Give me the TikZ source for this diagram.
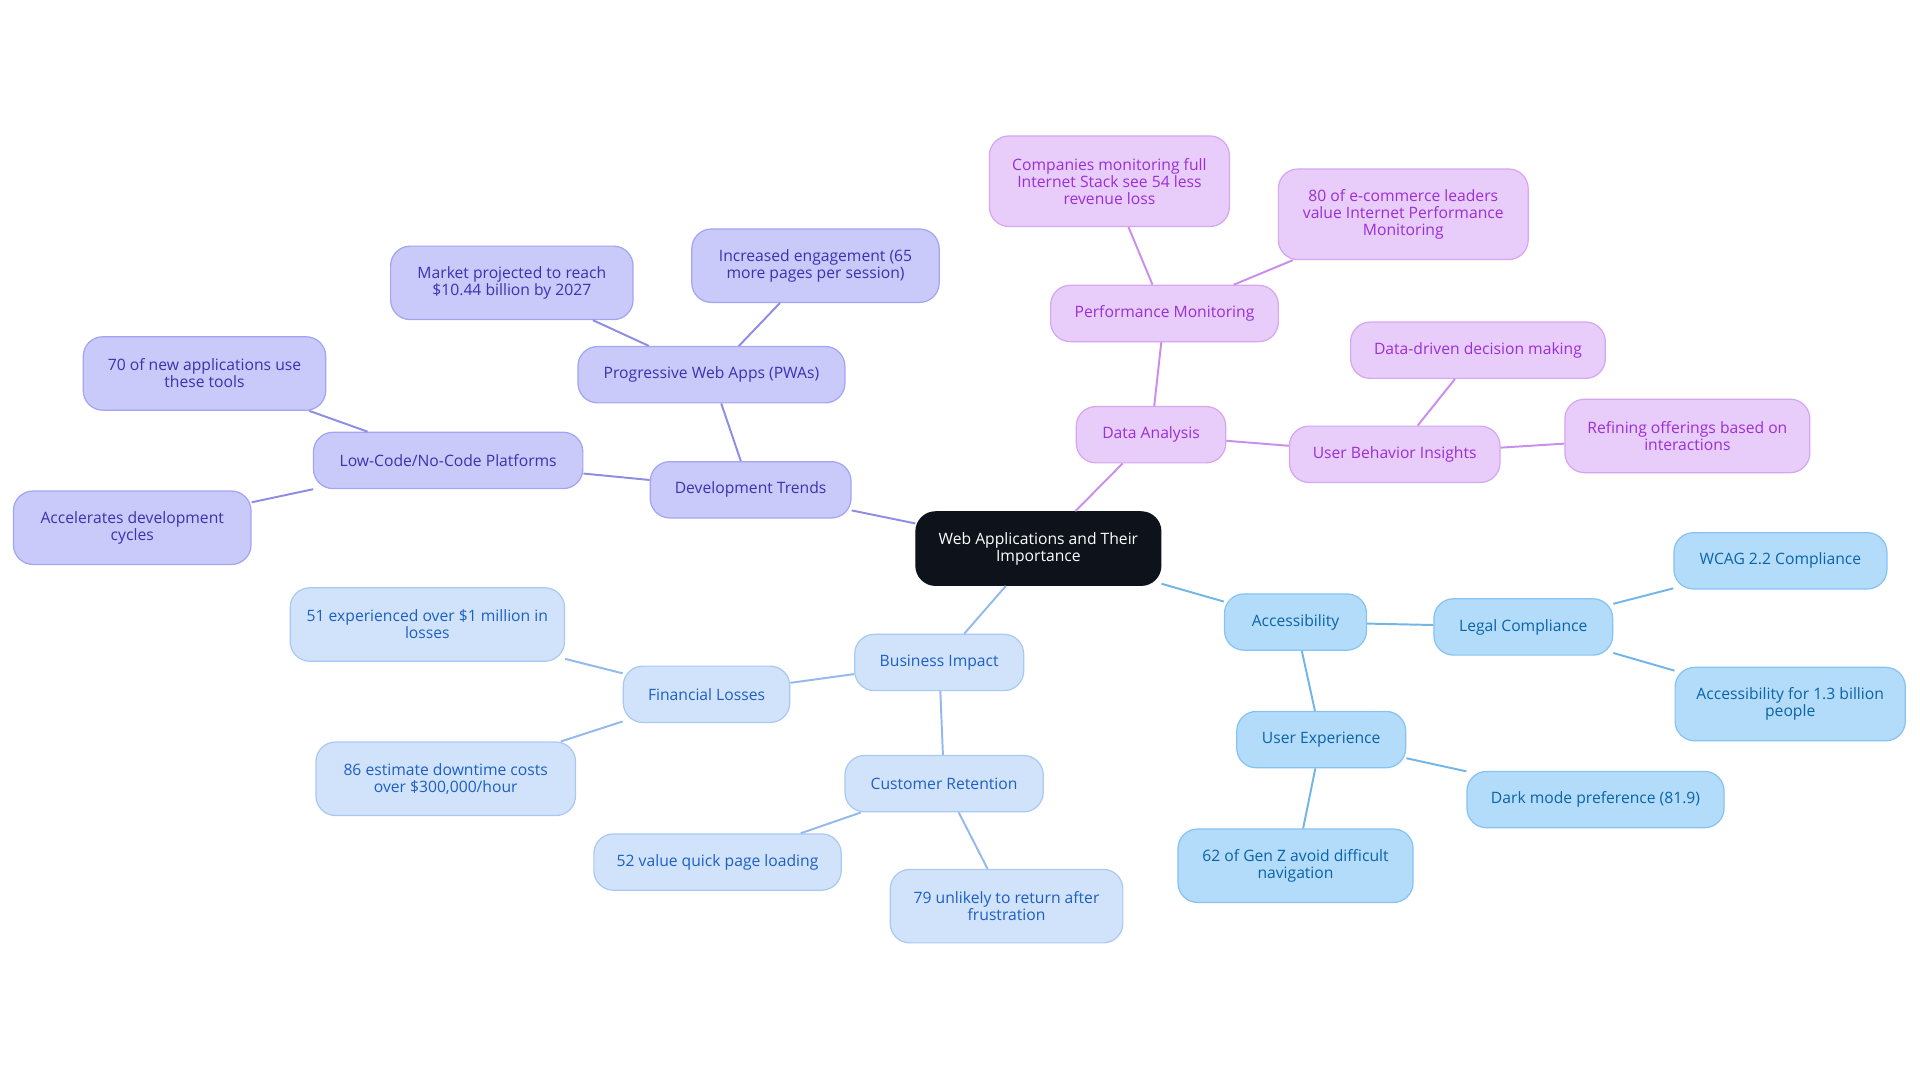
\documentclass[tikz,border=0pt]{standalone}
\usepackage{fontspec}
\setmainfont{Open Sans}
\definecolor{pf}{HTML}{E8CCFA}\definecolor{pt}{HTML}{9B2FD6}\definecolor{pd}{HTML}{D6A6F2}
\definecolor{vf}{HTML}{C9CAFA}\definecolor{vt}{HTML}{3A32B0}\definecolor{vd}{HTML}{A3A4F2}
\definecolor{bf}{HTML}{D0E3FA}\definecolor{bt}{HTML}{1E5FC4}\definecolor{bd}{HTML}{A9C9F2}
\definecolor{sf}{HTML}{B3DCFB}\definecolor{st}{HTML}{0B63A8}\definecolor{sd}{HTML}{86C3F2}
\definecolor{rootc}{HTML}{0D121B}
\tikzset{
 box/.style={rounded corners=8pt,align=center,inner sep=2pt,font=\fontsize{6.4}{7}\selectfont,line width=0.5pt},
 pbox/.style={box,fill=pf,draw=pd,text=pt},
 vbox/.style={box,fill=vf,draw=vd,text=vt},
 bbox/.style={box,fill=bf,draw=bd,text=bt},
 sbox/.style={box,fill=sf,draw=sd,text=st},
 pl/.style={draw=pd!80!pt,line width=0.8pt},
 vl/.style={draw=vd!80!vt,line width=0.8pt},
 bl/.style={draw=bd!85!bt,line width=0.8pt},
 sl/.style={draw=sd!85!st,line width=0.8pt},
}
\newcommand{\nd}[6]{\node[#1,minimum width=#4*0.5pt,minimum height=#5*0.5pt] (#6) at (#2*0.5pt,-#3*0.5pt) {#6text};}
\begin{document}
\begin{tikzpicture}
\useasboundingbox (0,0) rectangle (784pt,-442pt);
\def\N#1#2#3#4#5#6#7{\node[#1,minimum width=#4*0.5pt,minimum height=#5*0.5pt] (#6) at (#2*0.5pt,-#3*0.5pt) {#7};}
\node[box,fill=rootc,draw=rootc,text=white,minimum width=100pt,minimum height=30pt] (root) at (424pt,-224pt) {Web Applications and Their\\Importance};
\N{vbox}{613}{400}{164}{46}{dev}{Development Trends}
\N{vbox}{581}{306}{218}{46}{pwa}{Progressive Web Apps (PWAs)}
\N{vbox}{418}{231}{198}{60}{mkt}{Market projected to reach\\\$10.44 billion by 2027}
\N{vbox}{666}{217}{202}{60}{eng}{Increased engagement (65\\more pages per session)}
\N{vbox}{366}{376}{220}{46}{low}{Low-Code/No-Code Platforms}
\N{vbox}{167}{305}{198}{60}{sev}{70 of new applications use\\these tools}
\N{vbox}{108}{431}{194}{60}{acc}{Accelerates development\\cycles}
\N{pbox}{940}{355}{122}{46}{da}{Data Analysis}
\N{pbox}{951}{256}{186}{46}{pm}{Performance Monitoring}
\N{pbox}{906}{148}{196}{74}{comp}{Companies monitoring full\\Internet Stack see 54 less\\revenue loss}
\N{pbox}{1146}{175}{204}{74}{eig}{80 of e-commerce leaders\\value Internet Performance\\Monitoring}
\N{pbox}{1139}{371}{172}{46}{ubi}{User Behavior Insights}
\N{pbox}{1207}{286}{208}{46}{ddd}{Data-driven decision making}
\N{pbox}{1378}{356}{200}{60}{ref}{Refining offerings based on\\interactions}
\N{sbox}{1058}{508}{116}{46}{axs}{Accessibility}
\N{sbox}{1244}{512}{146}{46}{leg}{Legal Compliance}
\N{sbox}{1454}{458}{174}{46}{wcag}{WCAG 2.2 Compliance}
\N{sbox}{1462}{575}{188}{60}{bil}{Accessibility for 1.3 billion\\people}
\N{sbox}{1079}{604}{138}{46}{ux}{User Experience}
\N{sbox}{1303}{653}{210}{46}{dark}{Dark mode preference (81.9)}
\N{sbox}{1058}{707}{192}{60}{genz}{62 of Gen Z avoid difficult\\navigation}
\N{bbox}{767}{541}{138}{46}{bi}{Business Impact}
\N{bbox}{577}{567}{136}{46}{fin}{Financial Losses}
\N{bbox}{349}{510}{224}{60}{ffo}{51 experienced over \$1 million in\\losses}
\N{bbox}{364}{636}{212}{60}{eso}{86 estimate downtime costs\\over \$300,000/hour}
\N{bbox}{771}{640}{162}{46}{cr}{Customer Retention}
\N{bbox}{586}{704}{202}{46}{ftw}{52 value quick page loading}
\N{bbox}{822}{740}{190}{60}{sn}{79 unlikely to return after\\frustration}
\draw[vl] (root)--(dev); \draw[vl] (dev)--(pwa); \draw[vl] (pwa)--(mkt); \draw[vl] (pwa)--(eng);
\draw[vl] (dev)--(low); \draw[vl] (low)--(sev); \draw[vl] (low)--(acc);
\draw[pl] (root)--(da); \draw[pl] (da)--(pm); \draw[pl] (pm)--(comp); \draw[pl] (pm)--(eig);
\draw[pl] (da)--(ubi); \draw[pl] (ubi)--(ddd); \draw[pl] (ubi)--(ref);
\draw[sl] (root)--(axs); \draw[sl] (axs)--(leg); \draw[sl] (leg)--(wcag); \draw[sl] (leg)--(bil);
\draw[sl] (axs)--(ux); \draw[sl] (ux)--(dark); \draw[sl] (ux)--(genz);
\draw[bl] (root)--(bi); \draw[bl] (bi)--(fin); \draw[bl] (fin)--(ffo); \draw[bl] (fin)--(eso);
\draw[bl] (bi)--(cr); \draw[bl] (cr)--(ftw); \draw[bl] (cr)--(sn);
\end{tikzpicture}
\end{document}
